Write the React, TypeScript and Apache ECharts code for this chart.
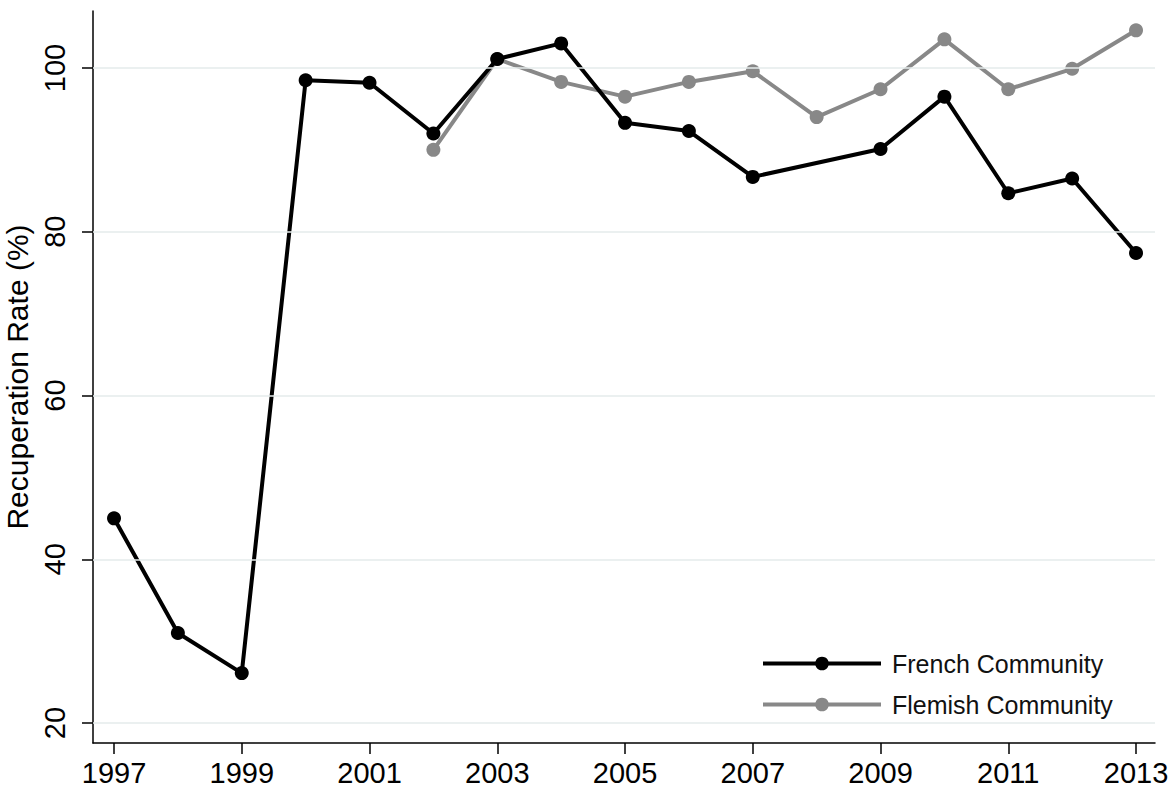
import React, { useEffect, useRef } from "react";
import * as echarts from "echarts";

const years = [1997, 1998, 1999, 2000, 2001, 2002, 2003, 2004, 2005, 2006, 2007, 2008, 2009, 2010, 2011, 2012, 2013];
const french: (number | null)[] = [45, 31, 26.1, 98.5, 98.2, 92, 101.1, 103, 93.3, 92.3, 86.7, null, 90.1, 96.5, 84.7, 86.5, 77.4];
const flemish: (number | null)[] = [null, null, null, null, null, 90, 101.1, 98.3, 96.5, 98.3, 99.6, 94, 97.4, 103.5, 97.4, 99.9, 104.6];
const xTicks = [1997, 1999, 2001, 2003, 2005, 2007, 2009, 2011, 2013];
const yTicks = [20, 40, 60, 80, 100];

const FONT = "'Liberation Sans', Arial, Helvetica, sans-serif";

export default function App() {
  const ref = useRef<HTMLDivElement>(null);
  useEffect(() => {
    if (!ref.current) return;
    const chart = echarts.init(ref.current, undefined, { renderer: "svg" });
    const pair = (vals: (number | null)[]) => years.map((y, i) => [y, vals[i]]);
    chart.setOption({
      animation: false,
      backgroundColor: "#ffffff",
      grid: { left: 93, right: 20, top: 11, bottom: 51, containLabel: false, outerBoundsMode: "none" },
      xAxis: {
        type: "value",
        min: 1996.671,
        max: 2013.297,
        axisLine: { show: true, onZero: false, lineStyle: { color: "#000", width: 1.5 } },
        axisTick: { show: true, length: 11, customValues: xTicks, lineStyle: { color: "#000", width: 1.5 } },
        axisLabel: { customValues: xTicks, fontSize: 29, color: "#000", fontFamily: FONT, margin: 15, formatter: (v: number) => String(v) },
        splitLine: { show: false },
      },
      yAxis: {
        type: "value",
        min: 17.56,
        max: 106.96,
        name: "Recuperation Rate (%)",
        nameLocation: "middle",
        nameGap: 52,
        nameTextStyle: { fontSize: 30, color: "#000", fontFamily: FONT },
        axisLine: { show: true, onZero: false, lineStyle: { color: "#000", width: 1.5 } },
        axisTick: { show: true, length: 11, customValues: yTicks, lineStyle: { color: "#000", width: 1.5 } },
        axisLabel: { customValues: yTicks, rotate: 90, fontSize: 29, color: "#000", fontFamily: FONT, margin: 24 },
        splitLine: { show: false },
      },
      legend: {
        data: ["French Community", "Flemish Community"],
        orient: "vertical",
        left: 756,
        top: 646,
        itemWidth: 118,
        itemHeight: 17,
        itemGap: 16,
        lineStyle: { width: 4 },
        textStyle: { fontSize: 25, color: "#111", fontFamily: FONT, padding: [0, 0, 0, 6] },
      },
      series: [
        {
          name: "grid",
          type: "line",
          data: [],
          z: 1,
          silent: true,
          markLine: {
            silent: true,
            symbol: "none",
            label: { show: false },
            lineStyle: { color: "#e4ebeb", width: 1.5, type: "solid" },
            data: yTicks.map((v) => ({ yAxis: v })),
          },
        },
        {
          name: "Flemish Community",
          type: "line",
          data: pair(flemish),
          z: 3,
          connectNulls: true,
          symbol: "circle",
          symbolSize: 14,
          lineStyle: { color: "#888888", width: 4 },
          itemStyle: { color: "#888888" },
        },
        {
          name: "French Community",
          type: "line",
          data: pair(french),
          z: 4,
          connectNulls: true,
          symbol: "circle",
          symbolSize: 14,
          lineStyle: { color: "#000000", width: 4 },
          itemStyle: { color: "#000000" },
        },
      ],
    });
    return () => chart.dispose();
  }, []);
  return <div ref={ref} style={{ width: 1175, height: 794, position: "absolute", left: 0, top: 0 }} />;
}
